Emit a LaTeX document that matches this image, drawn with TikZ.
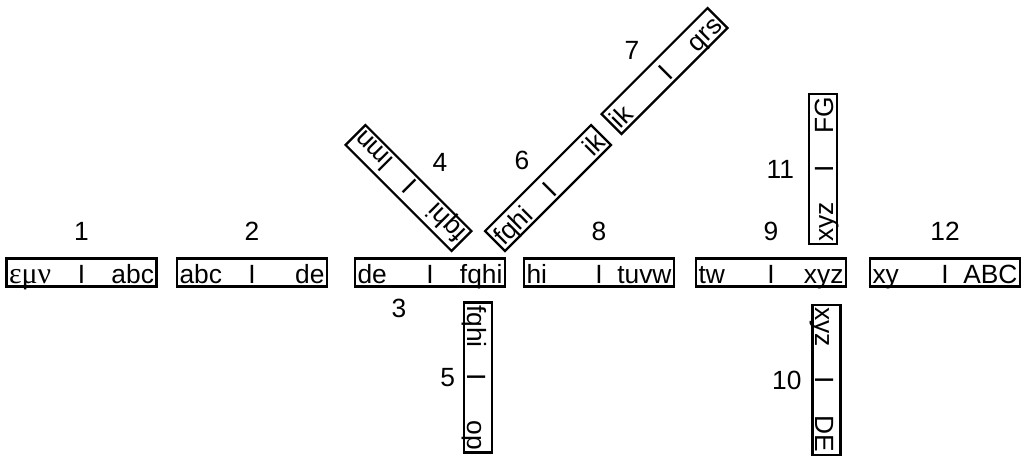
\documentclass[tikz,border=0pt]{standalone}
\usepackage{fontspec}
\setmainfont{Liberation Sans}
\newfontfamily\greekfont{Liberation Serif}
\usetikzlibrary{positioning}

% left part, bar in the middle, right part
\newcommand{\seg}[2]{\makebox[2.9cm]{\rlap{#1}\hfill I\hfill\llap{#2}}}

\begin{document}
\begin{tikzpicture}[
    x=0.02cm, y=-0.02cm,
    segbox/.style={rectangle, draw, line width=1.3pt, inner xsep=0.05cm, inner ysep=0.2pt,
                   text height=14pt, text depth=1.6pt, font=\fontsize{15}{18}\selectfont},
    num/.style={inner sep=0pt, font=\fontsize{15}{18}\selectfont}
  ]
    \useasboundingbox (0,0) rectangle (1021,457);
    % main row
    \node[segbox] (b1) at (81.5,272.5) {\seg{{\greekfont\fontsize{17}{18}\selectfont εμν}}{abc}};
    \node[segbox] (b2) at (252,272.5) {\seg{abc}{de}};
    \node[segbox] (b3) at (430,272.5) {\seg{de}{fqhi}};
    \node[segbox] (b8) at (599,272.5) {\seg{hi}{tuvw}};
    \node[segbox] (b9) at (771,272.5) {\seg{tw}{xyz}};
    \node[segbox] (b12) at (945,272.5) {\seg{xy}{ABC}};
    % branches
    \node[segbox, rotate=135] (b4) at (408.5,188) {\seg{fqhi}{lmn}};
    \node[segbox, rotate=-90] (b5) at (478,377.5) {\seg{fqhi}{op}};
    \node[segbox, rotate=45] (b6) at (548,188) {\seg{fqhi}{ik}};
    \node[segbox, rotate=45] (b7) at (664.5,71) {\seg{ik}{qrs}};
    \node[segbox, rotate=-90] (b10) at (826.5,380) {\seg{xyz}{DE}};
    \node[segbox, rotate=90] (b11) at (823,169) {\seg{xyz}{FG}};
    % numbers
    \node[num, above=0.33cm of b1] (n1) {1};
    \node[num, above=0.33cm of b2] (n2) {2};
    \node[num] (n3) at (399,308) {3};
    \node[num] (n4) at (440,162) {4};
    \node[num, left=0.15cm of b5.south] (n5) {5};
    \node[num] (n6) at (522,160) {6};
    \node[num] (n7) at (632,50) {7};
    \node[num, above=0.33cm of b8] (n8) {8};
    \node[num, above=0.33cm of b9] (n9) {9};
    \node[num, left=0.19cm of b10.south] (n10) {10};
    \node[num, left=0.27cm of b11.north] (n11) {11};
    \node[num, above=0.33cm of b12] (n12) {12};
\end{tikzpicture}
\end{document}
